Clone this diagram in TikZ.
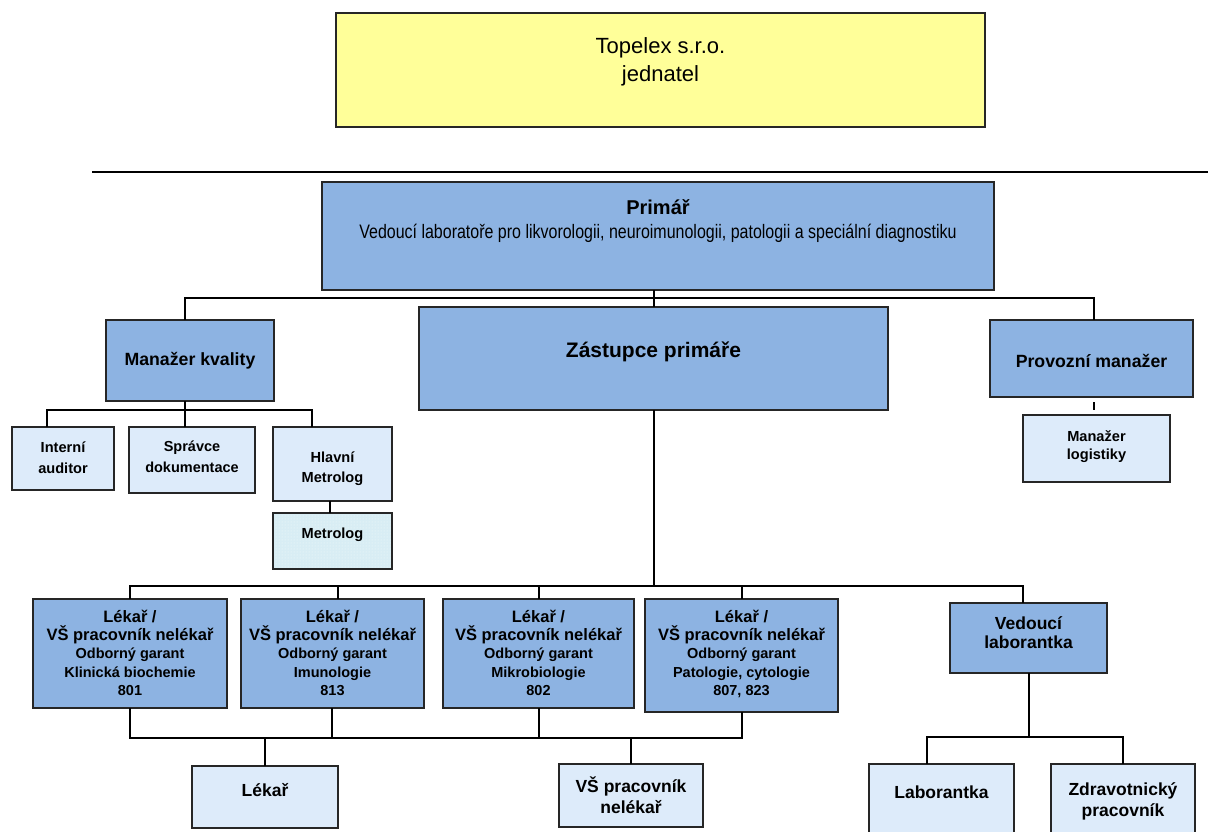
\documentclass[tikz,border=0pt]{standalone}
\usepackage{fontspec}
\setmainfont{Liberation Sans}
\newfontfamily\narrow{Liberation Sans}[FakeStretch=0.82]
\usetikzlibrary{patterns}
\definecolor{dblue}{HTML}{8DB3E2}
\definecolor{lblue}{HTML}{DDEBFA}
\definecolor{ylw}{HTML}{FFFF99}
\definecolor{mfill}{HTML}{D8EDF4}
\definecolor{mdot}{HTML}{F4FAFC}
\newcommand\bl[1]{\vskip\dimexpr#1pt-1em\relax\leavevmode\rule{0pt}{1em}}
\newcommand\fz[2]{\fontsize{#1}{#2}\selectfont}
\newcommand\obox[7]{\node[#1] (#2) at ({(#3+#5)/2},{(#4+#6)/2}) {\parbox[c][\dimexpr#6pt-#4pt\relax][t]{\dimexpr#5pt-#3pt\relax}{\centering#7\par}};}
\begin{document}
\begin{tikzpicture}[x=1pt,y=-1pt,
  box/.style={draw=black!85,line width=1.4pt,inner sep=0pt,outer sep=0pt},
  dbox/.style={box,fill=dblue},
  lbox/.style={box,fill=lblue},
  ybox/.style={box,fill=ylw},
  mbox/.style={box,preaction={fill=mfill},pattern=dots,pattern color=mdot},
  conn/.style={draw=black,line width=1.5pt}]
\clip (0,0) rectangle (1208,831);
\fill[white] (0,0) rectangle (1208,831);
% boxes
\obox{ybox}{top}{336}{13}{985}{127}{\fz{22}{28}\bl{40.3}Topelex s.r.o.\\ jednatel}
\obox{dbox}{primar}{322}{182}{994}{290}{\fz{20}{24}\bfseries\bl{32}Primář\par\narrow\mdseries\fz{19.5}{24.3}Vedoucí laboratoře pro likvorologii, neuroimunologii, patologii a speciální diagnostiku}
\obox{dbox}{mk}{106}{320}{274}{401}{\fz{17.7}{21}\bfseries\bl{45.3}Manažer kvality}
\obox{dbox}{zast}{419}{307}{888}{410}{\fz{21}{25}\bfseries\bl{50.3}Zástupce primáře}
\obox{dbox}{pm}{990}{320}{1193}{397}{\fz{17.7}{21}\bfseries\bl{47}Provozní manažer}
\obox{lbox}{ml}{1023}{415}{1170}{482}{\fz{14.6}{18}\bfseries\bl{26.7}Manažer\\ logistiky}
\obox{lbox}{ia}{12}{427}{114}{490}{\fz{14.6}{20.3}\bfseries\bl{25.7}Interní\\ auditor}
\obox{lbox}{sd}{129}{427}{255}{493}{\fz{14.5}{21}\bfseries\bl{24.7}Správce\\ dokumentace}
\obox{lbox}{hm}{273}{427}{392}{501}{\fz{14.6}{20}\bfseries\bl{35.7}Hlavní\\ Metrolog}
\obox{mbox}{met}{273}{513}{392}{569}{\fz{14.6}{20}\bfseries\bl{25.3}Metrolog}
\obox{dbox}{l1}{33}{599}{227}{708}{\fz{16.5}{18.3}\bfseries\bl{23.3}Lékař /\par VŠ pracovník nelékař\par\fz{14.5}{18.3}Odborný garant\par Klinická biochemie\par 801}
\obox{dbox}{l2}{241}{599}{424}{708}{\fz{16.5}{18.3}\bfseries\bl{23.3}Lékař /\par VŠ pracovník nelékař\par\fz{14.5}{18.3}Odborný garant\par Imunologie\par 813}
\obox{dbox}{l3}{443}{599}{634}{708}{\fz{16.5}{18.3}\bfseries\bl{23.3}Lékař /\par VŠ pracovník nelékař\par\fz{14.5}{18.3}Odborný garant\par Mikrobiologie\par 802}
\obox{dbox}{l4}{645}{599}{838}{712}{\fz{16.5}{18.3}\bfseries\bl{23.3}Lékař /\par VŠ pracovník nelékař\par\fz{14.5}{18.3}Odborný garant\par Patologie, cytologie\par 807, 823}
\obox{dbox}{vl}{950}{603}{1107}{673}{\fz{17.5}{19.5}\bfseries\bl{26.3}Vedoucí\\ laborantka}
\obox{lbox}{lek}{192}{766}{338}{828}{\fz{17.5}{21}\bfseries\bl{30}Lékař}
\obox{lbox}{vs}{559}{764}{703}{827}{\fz{17.5}{21}\bfseries\bl{28}VŠ pracovník\\ nelékař}
\obox{lbox}{lab}{869}{764}{1014}{842}{\fz{17.5}{21}\bfseries\bl{34.3}Laborantka}
\obox{lbox}{zp}{1051}{764}{1195}{842}{\fz{17.5}{21.7}\bfseries\bl{31}Zdravotnický\\ pracovník}
% separator line
\coordinate (hl1) at (92,172);
\coordinate (hl2) at (1208,172);
\draw[line width=1.4pt] (hl1) -- (hl2);
% bus levels
\coordinate (b1) at (0,298);
\coordinate (b2) at (0,410);
\coordinate (b3) at (0,586);
\coordinate (b4) at (0,738);
\coordinate (b5) at (0,737);
% primar to zastupce
\coordinate (zT) at ([xshift=0.5pt]zast.north);
\coordinate (zB) at ([xshift=0.5pt]zast.south);
\draw[conn] (zT) -- (zT |- primar.south);
% primar bus
\coordinate (mkT) at ([xshift=-5pt]mk.north);
\coordinate (pmT) at ([xshift=2.5pt]pm.north);
\draw[conn] (mkT) -- (mkT |- b1) -- (pmT |- b1) -- (pmT);
% manazer kvality
\coordinate (mkB) at ([xshift=-5pt]mk.south);
\coordinate (iaT) at ([xshift=-16pt]ia.north);
\coordinate (sdT) at ([xshift=-7pt]sd.north);
\coordinate (hmT) at ([xshift=-20.5pt]hm.north);
\draw[conn] (mkB) -- (mkB |- b2);
\draw[conn] (iaT) -- (iaT |- b2) -- (hmT |- b2) -- (hmT);
\draw[conn] (sdT) -- (sdT |- b2);
\draw[conn] ([xshift=-2.5pt]hm.south) -- ([xshift=-2.5pt]met.north);
% provozni manazer
\draw[conn,shorten <=5pt,shorten >=5pt] ([xshift=2.5pt]pm.south) -- ([xshift=-2.5pt]ml.north);
% zastupce bus
\coordinate (l2T) at ([xshift=5.5pt]l2.north);
\coordinate (l3T) at ([xshift=0.5pt]l3.north);
\coordinate (l4T) at ([xshift=0.5pt]l4.north);
\coordinate (vlT) at ([xshift=-5.5pt]vl.north);
\draw[conn] (zB) -- (zB |- b3);
\draw[conn] (l1.north) -- (l1.north |- b3) -- (vlT |- b3) -- (vlT);
\draw[conn] (l2T) -- (l2T |- b3);
\draw[conn] (l3T) -- (l3T |- b3);
\draw[conn] (l4T) -- (l4T |- b3);
% lower bus
\coordinate (l2B) at ([xshift=-0.5pt]l2.south);
\coordinate (l3B) at ([xshift=0.5pt]l3.south);
\coordinate (l4B) at ([xshift=0.5pt]l4.south);
\draw[conn] (l1.south) -- (l1.south |- b4) -- (l4B |- b4) -- (l4B);
\draw[conn] (l2B) -- (l2B |- b4);
\draw[conn] (l3B) -- (l3B |- b4);
\draw[conn] (lek.north) -- (lek.north |- b4);
\draw[conn] (vs.north) -- (vs.north |- b4);
% vedouci laborantka
\coordinate (vlB) at ([xshift=0.5pt]vl.south);
\coordinate (labT) at ([xshift=-14.5pt]lab.north);
\draw[conn] (vlB) -- (vlB |- b5);
\draw[conn] (labT) -- (labT |- b5) -- (zp.north |- b5) -- (zp.north);
\end{tikzpicture}
\end{document}
